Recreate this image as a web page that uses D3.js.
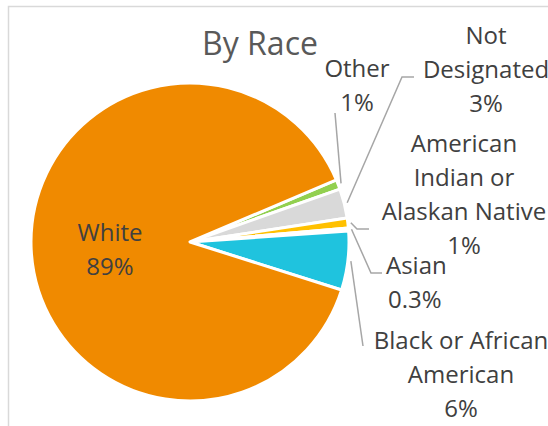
<!DOCTYPE html>
<html>
<head>
<meta charset="utf-8">
<script src="https://cdn.jsdelivr.net/npm/d3@7"></script>
<style>
  body { margin: 0; background: #fff; }
  svg { display: block; font-family: "Open Sans", Lato, sans-serif; }
</style>
</head>
<body>
<script>
// datos del gráfico (orden horario, empezando por "Other")
const categories = ["Other", "Not Designated", "American Indian or Alaskan Native", "Asian", "Black or African American", "White"];
const values = [1, 3, 1, 0.3, 6, 89];
const valueLabels = ["1%", "3%", "1%", "0.3%", "6%", "89%"];
const colors = ["#92D050", "#D9D9D9", "#FFC000", "#4472C4", "#1FC3DE", "#F08A00"];

// líneas de texto de cada etiqueta (como en Excel)
const labelLines = [
  ["Other", "1%"],
  ["Not", "Designated", "3%"],
  ["American", "Indian or", "Alaskan Native", "1%"],
  ["Asian", "0.3%"],
  ["Black or African", "American", "6%"],
  ["White", "89%"]
];

const width = 548, height = 426;
const cx = 190, cy = 242, radius = 159;

// posiciones de etiquetas y codos de las líneas guía (layout manual)
const labelLayout = [
  { x: 357, y: 68, anchor: "middle", leader: [[335, 113]] },
  { x: 486, y: 35, anchor: "middle", leader: [[402, 77], [414, 77]] },
  { x: 464, y: 143, anchor: "middle", leader: [[357, 229], [369, 229]] },
  { x: 386, y: 265, anchor: "start", leader: [[371, 273], [382, 273]] },
  { x: 461, y: 340, anchor: "middle", leader: [[363, 346]] },
  { x: 110, y: 232, anchor: "middle", leader: null }
];
const lineHeight = 34;

const svg = d3.select("body").append("svg")
  .attr("width", width)
  .attr("height", height);

// marco del área del gráfico
svg.append("rect")
  .attr("x", 8.5).attr("y", 6.5)
  .attr("width", 700).attr("height", 600)
  .attr("fill", "none")
  .attr("stroke", "#D9D9D9")
  .attr("stroke-width", 1.5);

svg.append("text")
  .attr("x", 260).attr("y", 55)
  .attr("text-anchor", "middle")
  .attr("font-size", 32)
  .attr("fill", "#595959")
  .text("By Race");

const data = categories.map((c, i) => ({ name: c, value: values[i], i: i }));

const startDeg = 67;
const pie = d3.pie()
  .sort(null)
  .value(d => d.value)
  .startAngle(startDeg * Math.PI / 180)
  .endAngle(startDeg * Math.PI / 180 + 2 * Math.PI);

const arcs = pie(data);
const arc = d3.arc().innerRadius(0).outerRadius(radius);
const leaderArc = d3.arc().innerRadius(radius + 3).outerRadius(radius + 3);

const g = svg.append("g").attr("transform", `translate(${cx},${cy})`);

g.selectAll("path.slice")
  .data(arcs)
  .join("path")
  .attr("class", "slice")
  .attr("d", arc)
  .attr("fill", d => colors[d.data.i])
  .attr("stroke", "#fff")
  .attr("stroke-width", 3)
  .attr("stroke-linejoin", "round");

// líneas guía
arcs.forEach(a => {
  const lay = labelLayout[a.data.i];
  if (!lay.leader) return;
  const c = leaderArc.centroid(a);
  const pts = [[c[0] + cx, c[1] + cy]].concat(lay.leader);
  svg.append("path")
    .attr("d", d3.line()(pts))
    .attr("fill", "none")
    .attr("stroke", "#A6A6A6")
    .attr("stroke-width", 1.5);
});

// etiquetas
arcs.forEach(a => {
  const lay = labelLayout[a.data.i];
  const t = svg.append("text")
    .attr("text-anchor", lay.anchor)
    .attr("font-size", 24)
    .attr("fill", "#404040");
  labelLines[a.data.i].forEach((ln, k) => {
    t.append("tspan")
      .attr("x", lay.x + (lay.anchor === "start" && k > 0 ? 2 : 0))
      .attr("y", lay.y + 9 + k * lineHeight)
      .text(ln);
  });
});
</script>
</body>
</html>
